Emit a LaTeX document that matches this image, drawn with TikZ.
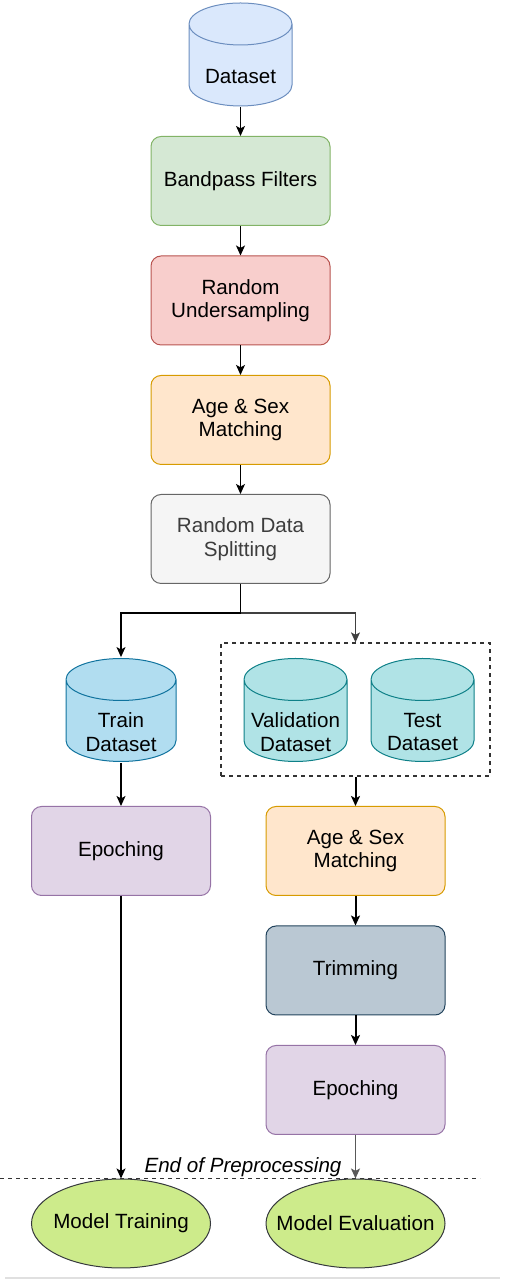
\documentclass[tikz,border=0pt]{standalone}
\usepackage{fontspec}
\setmainfont{Liberation Sans}
\usetikzlibrary{arrows.meta,shapes.geometric,calc,positioning}
\definecolor{dsfill}{HTML}{DAE8FC}\definecolor{dsline}{HTML}{6C8EBF}
\definecolor{bpfill}{HTML}{D5E8D4}\definecolor{bpline}{HTML}{82B366}
\definecolor{rufill}{HTML}{F8CECC}\definecolor{ruline}{HTML}{B85450}
\definecolor{asfill}{HTML}{FFE6CC}\definecolor{asline}{HTML}{D79B00}
\definecolor{spfill}{HTML}{F5F5F5}\definecolor{spline}{HTML}{666666}
\definecolor{trfill}{HTML}{B1DDF0}\definecolor{trline}{HTML}{10739E}
\definecolor{vtfill}{HTML}{B0E3E6}\definecolor{vtline}{HTML}{0E8088}
\definecolor{epfill}{HTML}{E1D5E7}\definecolor{epline}{HTML}{9673A6}
\definecolor{tmfill}{HTML}{BAC8D3}\definecolor{tmline}{HTML}{23445D}
\definecolor{mdfill}{HTML}{CDEB8B}\definecolor{mdline}{HTML}{36393D}

\begin{document}
\begin{tikzpicture}[x=0.5pt,y=0.5pt,
    every node/.style={font=\fontsize{10.3}{11.8}\selectfont,align=center},
    box/.style={rectangle,rounded corners=5pt,draw,line width=0.5pt,
                minimum width=89.5pt,minimum height=44.5pt},
    model/.style={ellipse,draw=mdline,fill=mdfill,line width=0.5pt,inner xsep=-12pt,inner ysep=0pt,
                minimum width=89.5pt,minimum height=44.5pt},
    db/.style 2 args={rectangle,inner sep=0pt,minimum width=52.5pt,minimum height=52.5pt,
      path picture={
        \path[draw=#2,fill=#1,line width=0.5pt]
          let \p1=(path picture bounding box.south west),
              \p2=(path picture bounding box.north east),
              \n1={(\x2-\x1)/2-0.5pt}, \n2={10.5pt} in
          (\x1+0.5pt,\y2-0.5pt-\n2) -- (\x1+0.5pt,\y1+0.5pt+\n2)
          arc[start angle=180,end angle=360,x radius=\n1,y radius=\n2]
          -- (\x2-0.5pt,\y2-0.5pt-\n2)
          arc[start angle=0,end angle=180,x radius=\n1,y radius=\n2] -- cycle
          (\x1+0.5pt,\y2-0.5pt-\n2)
          arc[start angle=180,end angle=360,x radius=\n1,y radius=\n2];
      }}]
\useasboundingbox (0,0) rectangle (505,1280);

% main chain
\node[db={dsfill}{dsline},label={[yshift=-11pt]center:Dataset}] (data) at (240.5,1225.5) {};
\node[box,draw=bpline,fill=bpfill] (band) at (240.5,1099) {Bandpass Filters};
\node[box,draw=ruline,fill=rufill] (under) at (240.5,979.5) {Random\\Undersampling};
\node[box,draw=asline,fill=asfill] (age) at (240.5,860) {Age \& Sex\\Matching};
\node[box,draw=spline,fill=spfill,text=spline!60!black] (split) at (240.5,741) {Random Data\\Splitting};
\coordinate (fork) at (240.5,667);

% datasets
\node[db={trfill}{trline},minimum width=56pt,label={[yshift=-11pt]center:Train\\Dataset}] (train) at (121,570) {};
\node[db={vtfill}{vtline},label={[yshift=-11pt]center:Validation\\Dataset}] (valid) at (295.5,570) {};
\node[db={vtfill}{vtline},label={[yshift=-11pt]center:Test\\Dataset}] (test) at (422.5,570) {};
\node[draw=black!80,dash pattern=on 2pt off 2pt,line width=0.6pt,inner sep=0pt,
      minimum width=134.5pt,minimum height=66.5pt] (group) at (355.5,570.5) {};

% branches
\node[box,draw=epline,fill=epfill] (epochL) at (121,429) {Epoching};
\node[box,draw=asline,fill=asfill] (ageR) at (355.5,429) {Age \& Sex\\Matching};
\node[box,draw=tmline,fill=tmfill] (trim) at (355.5,309.5) {Trimming};
\node[box,draw=epline,fill=epfill] (epochR) at (355.5,190) {Epoching};

% end of preprocessing
\coordinate (endL) at (0,101);
\coordinate (endR) at (480,101);
\draw[black!80,dash pattern=on 2pt off 2pt,line width=0.5pt] (endL) -- (endR);
\node[font=\fontsize{10.3}{11.8}\selectfont\itshape] (endtxt) at (243,113) {End of Preprocessing};
\node[model] (mtrain) at (121,56.5) {Model Training};
\node[model] (meval) at (355.5,56.5) {Model Evaluation};
\draw[black!12,line width=1pt] (5,2) -- (500,2);

\begin{scope}[>={Stealth[length=5pt,width=4.5pt,inset=1.2pt]},
              every edge/.style={draw,line width=0.6pt}]
    \path [->] (data) edge (band);
    \path [->] (band) edge (under);
    \path [->] (under) edge (age);
    \path [->] (age) edge (split);
    \path [-] (split) edge (fork);
    \path [->] (fork) edge[to path={-| (\tikztotarget)}] (train.north);
    \path [->] (fork) edge[draw=black!75,to path={-| (\tikztotarget)}] (group.north);
    \path [->] (train) edge (epochL);
    \path [->] (group) edge[line width=1pt] (ageR);
    \path [->] (ageR) edge[line width=1pt] (trim);
    \path [->] (trim) edge[line width=1pt] (epochR);
    \path [->] (epochL) edge (mtrain);
    \path [->] (epochR) edge[draw=black!65,line width=0.8pt] (meval);
\end{scope}
\end{tikzpicture}
\end{document}
